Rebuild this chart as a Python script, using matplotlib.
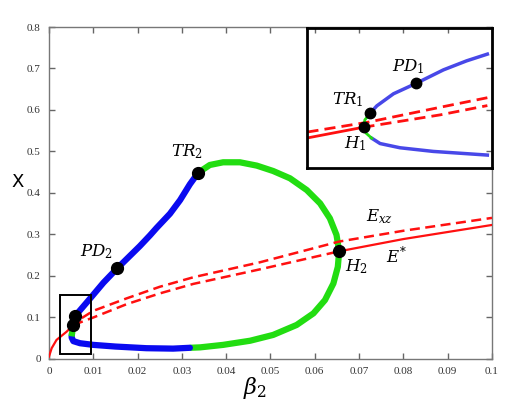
import matplotlib
matplotlib.use('Agg')
import matplotlib.pyplot as plt

plt.rcParams['mathtext.fontset'] = 'dejavuserif'

# ---- main panel data ----
# E* stable part near the origin
es_x0 = [0.0, 0.0006, 0.0017, 0.004, 0.0055]
es_y0 = [0.006, 0.026, 0.046, 0.066, 0.082]
# E* unstable (dashed) between H1 and H2
es_dx = [0.0055, 0.010, 0.0175, 0.025, 0.0326, 0.0476, 0.0655]
es_dy = [0.082, 0.100, 0.132, 0.158, 0.181, 0.216, 0.2595]
# E* stable again after H2
es_x1 = [0.0655, 0.08, 0.1]
es_y1 = [0.2595, 0.289, 0.323]
# E_xz (dashed)
exz_x = [0.0045, 0.0058, 0.010, 0.0175, 0.025, 0.0326, 0.0476, 0.0655, 0.08, 0.1]
exz_y = [0.078, 0.088, 0.116, 0.146, 0.174, 0.197, 0.233, 0.283, 0.309, 0.340]

# periodic branch, blue = one stability type, green = other
blue_up_x = [0.0059, 0.0077, 0.0093, 0.0123, 0.0154, 0.0205, 0.0228, 0.0243, 0.0273,
             0.0296, 0.0318, 0.0337]
blue_up_y = [0.1036, 0.126, 0.146, 0.184, 0.2185, 0.272, 0.298, 0.316, 0.350,
             0.383, 0.421, 0.449]
green_x = [0.0337, 0.0363, 0.0393, 0.0431, 0.0469, 0.0506, 0.0544, 0.0582, 0.0612,
           0.0634, 0.0649, 0.0655, 0.0652, 0.0642, 0.0623, 0.0597, 0.0559, 0.0506,
           0.0454, 0.0393, 0.0341, 0.0318]
green_y = [0.449, 0.4675, 0.474, 0.474, 0.466, 0.453, 0.4354, 0.407, 0.375,
           0.339, 0.299, 0.2595, 0.222, 0.182, 0.142, 0.110, 0.082, 0.058,
           0.044, 0.034, 0.028, 0.027]
blue_lo_x = [0.0318, 0.028, 0.022, 0.015, 0.010, 0.007, 0.0055, 0.0051, 0.0052]
blue_lo_y = [0.027, 0.025, 0.026, 0.030, 0.034, 0.038, 0.043, 0.052, 0.062]
green_s_x = [0.0052, 0.0055, 0.0059]
green_s_y = [0.062, 0.082, 0.1036]

# special points
pt_names = ['TR_1', 'H_1', 'PD_2', 'TR_2', 'H_2']
pt_x = [0.0059, 0.0055, 0.0154, 0.0337, 0.0655]
pt_y = [0.1036, 0.082, 0.2185, 0.449, 0.2595]

xticks = [0, 0.01, 0.02, 0.03, 0.04, 0.05, 0.06, 0.07, 0.08, 0.09, 0.1]
xtick_labels = ['0', '0.01', '0.02', '0.03', '0.04', '0.05', '0.06', '0.07', '0.08', '0.09', '0.1']
yticks = [0, 0.1, 0.2, 0.3, 0.4, 0.5, 0.6, 0.7, 0.8]
ytick_labels = ['0', '0.1', '0.2', '0.3', '0.4', '0.5', '0.6', '0.7', '0.8']

# ---- inset data (zoom near H1 / TR1) ----
in_red_x = [0.00401, 0.00522]
in_red_y = [0.0708, 0.0746]
in_exz_x = [0.00401, 0.00532, 0.00688, 0.00790]
in_exz_y = [0.0729, 0.0764, 0.0817, 0.0851]
in_esd_x = [0.00522, 0.00688, 0.00790]
in_esd_y = [0.0746, 0.0790, 0.0823]
in_bup_x = [0.00536, 0.00551, 0.00587, 0.00636, 0.00695, 0.00745, 0.00790]
in_bup_y = [0.0795, 0.0822, 0.0865, 0.0902, 0.0950, 0.0982, 0.1006]
in_grn_x = [0.00536, 0.00525, 0.00523, 0.00527, 0.00540]
in_grn_y = [0.0795, 0.0772, 0.0746, 0.0726, 0.0707]
in_blo_x = [0.00540, 0.00558, 0.00601, 0.00673, 0.00745, 0.00790]
in_blo_y = [0.0707, 0.0688, 0.0673, 0.0660, 0.0652, 0.0647]
in_pt_x = [0.00536, 0.00523, 0.00636]
in_pt_y = [0.0795, 0.0746, 0.0902]

RED = '#ff1010'
BLUE = '#0a0af0'
GREEN = '#22dd11'
dash = (0, (4.0, 2.2))

fig = plt.figure(figsize=(5.23, 4.03), dpi=100)
ax = fig.add_axes([0.0937, 0.1092, 0.847, 0.8238])

ax.plot(blue_up_x, blue_up_y, color=BLUE, lw=4.5, solid_capstyle='round',
        solid_joinstyle='round', zorder=3)
ax.plot(green_x, green_y, color=GREEN, lw=4.5, solid_capstyle='butt',
        solid_joinstyle='round', zorder=3)
ax.plot(blue_lo_x, blue_lo_y, color=BLUE, lw=4.5, solid_capstyle='round',
        solid_joinstyle='round', zorder=3)
ax.plot(green_s_x, green_s_y, color=GREEN, lw=4.5, zorder=3)

ax.plot(es_x0, es_y0, color=RED, lw=1.6, zorder=4)
ax.plot(es_dx, es_dy, color=RED, lw=1.8, linestyle=dash, zorder=4)
ax.plot(es_x1, es_y1, color=RED, lw=1.6, zorder=4)
ax.plot(exz_x, exz_y, color=RED, lw=1.8, linestyle=dash, zorder=4)

ax.plot(pt_x, pt_y, 'o', color='black', ms=8.5, zorder=5)

# zoom box
ax.add_patch(plt.Rectangle((0.0025, 0.012), 0.007, 0.142, fill=False,
                           edgecolor='black', lw=1.4, zorder=6))

lab = dict(fontsize=12, ha='center', va='center')
ax.text(0.0311, 0.4995, r'$TR_2$', **lab)
ax.text(0.0108, 0.2586, r'$PD_2$', **lab)
ax.text(0.0747, 0.343, r'$E_{xz}$', **lab)
ax.text(0.0785, 0.2465, r'$E^{*}$', **lab)
ax.text(0.0693, 0.222, r'$H_2$', **lab)

ax.set_xlim(0, 0.1)
ax.set_ylim(0, 0.8)
ax.set_xticks(xticks)
ax.set_xticklabels(xtick_labels)
ax.set_yticks(yticks)
ax.set_yticklabels(ytick_labels)
ax.tick_params(direction='in', top=True, right=True, length=4, width=1,
               color='#666666', labelcolor='#333333', labelsize=8, pad=6)
for lbl in ax.get_xticklabels() + ax.get_yticklabels():
    lbl.set_family('Liberation Serif')
for s in ax.spines.values():
    s.set_color('#777777')
    s.set_linewidth(1)

ax.set_ylabel('X', rotation=0, fontsize=13, va='center', ha='center')
ax.yaxis.set_label_coords(-0.07, 0.534)
ax.set_xlabel(r'$\beta_2$', fontsize=16, va='center', ha='center')
ax.xaxis.set_label_coords(0.465, -0.088)

# ---- inset ----
ai = fig.add_axes([0.587, 0.5824, 0.3537, 0.3489])
ai.set_facecolor('none')
ai.plot(in_red_x, in_red_y, color=RED, lw=2)
ai.plot(in_exz_x, in_exz_y, color=RED, lw=2, linestyle=dash)
ai.plot(in_esd_x, in_esd_y, color=RED, lw=2, linestyle=dash)
ai.plot(in_bup_x, in_bup_y, color='#4848e8', lw=2.5, solid_joinstyle='round')
ai.plot(in_blo_x, in_blo_y, color='#4848e8', lw=2.5, solid_joinstyle='round')
ai.plot(in_grn_x, in_grn_y, color=GREEN, lw=2)
ai.plot(in_pt_x, in_pt_y, 'o', color='black', ms=7.5, zorder=5)
ai.text(0.00489, 0.0843, r'$TR_1$', **lab)
ai.text(0.00504, 0.0689, r'$H_1$', **lab)
ai.text(0.00619, 0.0961, r'$PD_1$', **lab)
ai.set_xlim(0.004, 0.008)
ai.set_ylim(0.06, 0.11)
ai.set_xticks([])
ai.set_yticks([])
for s in ai.spines.values():
    s.set_color('black')
    s.set_linewidth(2)

fig.savefig('out.png', dpi=100)
